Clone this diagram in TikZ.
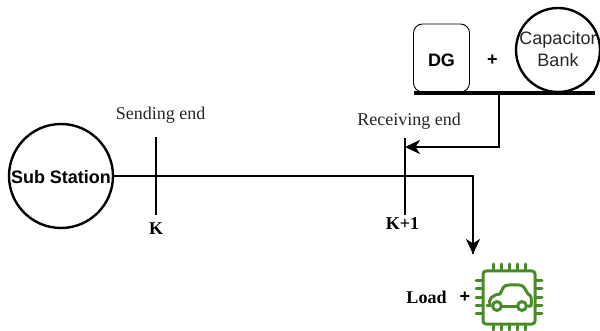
\documentclass[tikz,border=0pt]{standalone}
\usepackage{fontspec}
\setmainfont{Liberation Serif}
\setsansfont{Liberation Sans}
\usetikzlibrary{arrows.meta}
\tikzset{
  wire/.style={line width=2.8pt,draw=black},
  ser/.style={font=\rmfamily\fontsize{18}{20}\selectfont,inner sep=0pt,text=black!85},
  serb/.style={font=\rmfamily\bfseries\fontsize{18}{20}\selectfont,inner sep=0pt},
  san/.style={font=\sffamily\fontsize{18}{22}\selectfont,inner sep=0pt,align=center,text=black!85},
  sanb/.style={font=\sffamily\bfseries\fontsize{18}{20}\selectfont,inner sep=0pt},
  tip/.style={-{Stealth[length=15pt,width=14pt,inset=4.5pt]}},
  chip/.style={draw={rgb,255:red,73;green,139;blue,41},line width=3pt,line cap=round,line join=round}
}
\begin{document}
\begin{tikzpicture}[x=1pt,y=-1pt]
\useasboundingbox (0,0) rectangle (600,331);
\node[circle,draw,line width=2.4pt,minimum size=104pt,inner sep=0pt] (sub) at (61,176) {};
\node[sanb] (subl) at (61,177) {Sub Station};
\node[draw,line width=.9pt,rounded corners=9pt,minimum width=56pt,minimum height=68pt,inner sep=0pt] (dg) at (441.5,58) {};
\node[sanb] (dgl) at (441.5,60) {DG};
\node[sanb] (plus1) at (492.5,60) {+};
\node[circle,draw,line width=2.4pt,minimum size=84pt,inner sep=0pt] (cap) at (558,50) {};
\node[san] (capl) at (558,49) {Capacitor\\Bank};
\coordinate (busl) at (414,93);
\coordinate (busr) at (595,93);
\coordinate (busm) at (499,93);
\coordinate (k1) at (156,137);
\coordinate (k2) at (156,215);
\coordinate (r1) at (405,138);
\coordinate (r2) at (405,215);
\coordinate (ra) at (405,147);
\coordinate (lt) at (473,254);
\draw[wire,line width=3.2pt] (busl) -- (busr);
\draw[wire,tip] (busm) |- (ra);
\draw[wire] (sub.east) -- (473,176) -- (lt) ;
\draw[wire,tip] (473,200) -- (lt);
\draw[wire] (k1) -- (k2);
\draw[wire] (r1) -- (r2);
\node[ser] (send) at (160.5,115) {Sending end};
\node[ser] (recv) at (409,121) {Receiving end};
\node[serb] (k) at (156,229) {K};
\node[serb] (k1l) at (402.5,224) {K+1};
\node[serb] (load) at (426.5,297) {Load};
\node[sanb] (plus2) at (465,297) {+};
% chip icon
\draw[chip,rounded corners=3pt] (483,271) rectangle (535,324);
\foreach \x in {493,501,509,517,525}{
  \draw[chip] (\x,264) -- (\x,271);
  \draw[chip] (\x,324) -- (\x,330);
}
\foreach \y in {281,289,297,305,313}{
  \draw[chip] (476,\y) -- (483,\y);
  \draw[chip] (535,\y) -- (542,\y);
}
\draw[chip] (487,305.5) -- (490,305.5) .. controls (488,299) and (492,295) .. (500,294)
  -- (503,288) .. controls (504,286) and (506,285) .. (509,285)
  -- (519,285) .. controls (522,285) and (523,286) .. (525,289)
  -- (528,294) .. controls (531,295) and (532,298) .. (531,306) -- (528,306);
\draw[chip] (501,306) -- (517,306);
\draw[chip] (497,306) circle (4.4pt);
\draw[chip] (522,306) circle (4.4pt);
\end{tikzpicture}
\end{document}
